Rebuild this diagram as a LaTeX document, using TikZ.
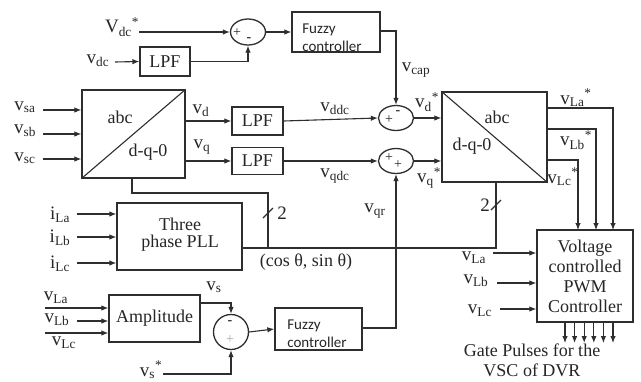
\documentclass[tikz,border=0pt]{standalone}
\usepackage{fontspec}
\setmainfont{Liberation Serif}
\newfontfamily\fzfont{Carlito}
\usetikzlibrary{arrows.meta,shapes.geometric}
\definecolor{ln}{HTML}{2E2E2E}
\definecolor{txt}{HTML}{262626}
\newcommand{\vsub}[1]{v\textsubscript{#1}}
\newcommand{\vstar}[1]{v\textsubscript{#1}\textsuperscript{*}}
\begin{document}
\begin{tikzpicture}[x=1pt,y=-1pt,
  blk/.style={draw=ln, line width=1.3pt, rectangle, inner sep=0pt, text=txt,
              font=\fontsize{18}{19}\selectfont, align=center},
  sumj/.style={draw=ln, line width=1.3pt, ellipse, inner sep=0pt},
  wire/.style={draw=ln, line width=1.1pt},
  arr/.style={wire, -{Latex[length=7pt,width=5.5pt]}},
  lbl/.style={font=\fontsize{19}{19}\selectfont, text=txt, inner sep=0pt},
  sgn/.style={font=\fontsize{14}{14}\selectfont, text=txt, inner sep=0pt},
  fz/.style={font=\fzfont\fontsize{15}{18}\selectfont, text=txt, align=left, inner sep=0pt},
  txtn/.style={font=\fontsize{18}{19}\selectfont, text=txt, inner sep=0pt, align=center}]
\useasboundingbox (0,0) rectangle (641,381);
\fill[white] (0,0) rectangle (641,381);

% ---------- blocks ----------
\node[blk, minimum width=88pt, minimum height=40pt] (fz1) at (336,32) {};
\node[fz] (fz1t) at (332,38) {Fuzzy\\controller};
\node[blk, minimum width=50pt, minimum height=29pt] (lpf0) at (165,61.5) {LPF};
\node[sumj, minimum width=35pt, minimum height=26pt] (s1) at (248,32) {};
\node[blk, minimum width=103pt, minimum height=88pt] (abc1) at (133.5,134) {};
\node[txtn] (abc1a) at (120,117) {abc};
\node[txtn] (abc1b) at (148,152) {d-q-0};
\node[blk, minimum width=51pt, minimum height=28pt] (lpf1) at (257.5,121) {LPF};
\node[blk, minimum width=51pt, minimum height=27pt] (lpf2) at (257.5,161) {LPF};
\node[sumj, minimum width=35pt, minimum height=25pt] (s2) at (396,118) {};
\node[sumj, minimum width=35pt, minimum height=25pt] (s3) at (396,161) {};
\node[blk, minimum width=105pt, minimum height=90pt] (abc2) at (494.5,137) {};
\node[txtn] (abc2a) at (497,117) {abc};
\node[txtn] (abc2b) at (472,146) {d-q-0};
\node[blk, minimum width=125pt, minimum height=67pt] (pll) at (179.5,236.5) {};
\node[txtn] (pllt) at (180,235) {Three\\[-2pt]phase PLL};
\node[blk, minimum width=91pt, minimum height=47pt] (amp) at (154.5,318.5) {Amplitude};
\node[sumj, minimum width=35pt, minimum height=35pt] (s4) at (231,332) {};
\node[blk, minimum width=87pt, minimum height=42pt] (fz2) at (318.5,329) {};
\node[fz] (fz2t) at (317,334) {Fuzzy\\controller};
\node[blk, minimum width=96pt, minimum height=92pt] (pwm) at (585,276) {Voltage\\[1pt]controlled\\[1pt]PWM\\[1pt]Controller};

% diagonals of the transformation blocks
\draw[wire] (abc1.south west) -- (abc1.north east);
\draw[wire] (abc2.north west) -- (abc2.south east);

% ---------- signs ----------
\node[sgn] (s1p) at (237,33) {+};
\node[sgn] (s1m) at (249,40) {\textbf{-}};
\node[sgn] (s2p) at (389,120) {+};
\node[sgn] (s2m) at (398,113) {\textbf{-}};
\node[sgn] (s3p1) at (389,158) {+};
\node[sgn] (s3p2) at (398,165) {+};
\node[sgn] (s4m) at (230,323) {\textbf{-}};
\node[sgn, text=gray!70] (s4p) at (230,340) {+};

% ---------- DC link loop ----------
\coordinate (vdcsin) at (139,32);
\node[lbl] (Vdcs) at (122,27) {V\textsubscript{dc}\textsuperscript{*}};
\draw[arr] (vdcsin) -- (s1.west);
\coordinate (vdcin) at (115,62);
\node[lbl] (vdc) at (98,61) {\vsub{dc}};
\draw[arr] (vdcin) -- (lpf0.west);
\draw[arr] (lpf0.east) -| (s1.south);
\draw[arr] (s1.east) -- (fz1.west);
\coordinate (fz1o) at (380,31);
\draw[arr] (fz1o) -| (s2.north);
\node[lbl] (vcap) at (416,70) {\vsub{cap}};

% ---------- abc -> dq0 ----------
\foreach \n/\y/\s in {sa/110/107, sb/134/131, sc/159/158}{
  \coordinate (in\n) at (43,\y);
  \draw[arr] (in\n) -- (in\n -| abc1.west);
  \node[lbl] (l\n) at (25,\s) {\vsub{\n}};
}
\draw[arr] (abc1.east |- lpf1.west) -- (lpf1.west);
\draw[arr] (abc1.east |- lpf2.west) -- (lpf2.west);
\node[lbl] (vd) at (201,111) {\vsub{d}};
\node[lbl] (vq) at (202,147) {\vsub{q}};
\draw[arr] (lpf1.east) -- (s2.west);
\draw[arr] (lpf2.east) -- (s3.west);
\node[lbl] (vddc) at (335,109) {\vsub{ddc}};
\node[lbl] (vqdc) at (335,176) {\vsub{qdc}};
\draw[arr] (s2.east) -- (s2.east -| abc2.west);
\draw[arr] (s3.east) -- (s3.east -| abc2.west);
\node[lbl] (vds) at (427,102) {\vstar{d}};
\node[lbl] (vqs) at (429,178) {\vstar{q}};

% ---------- dq0 -> abc outputs ----------
\coordinate (oa) at (547,108);
\coordinate (ob) at (547,129);
\coordinate (oc) at (547,160);
\draw[arr] (oa) -- (613,108) -- (613,230);
\draw[arr] (ob) -- (596,129) -- (596,230);
\draw[arr] (oc) -- (578,160) -- (578,230);
\node[lbl] (vLas) at (576,98) {\vstar{La}};
\node[lbl] (vLbs) at (576,140) {\vstar{Lb}};
\node[lbl] (vLcs) at (563,177) {\vstar{Lc}};

% ---------- PLL ----------
\foreach \n/\y/\s in {La/214/215, Lb/237/238, Lc/263/264}{
  \coordinate (i\n) at (77,\y);
  \draw[arr] (i\n) -- (i\n -| pll.west);
  \node[lbl] (li\n) at (60,\s) {i\textsubscript{\n}};
}
\coordinate (pllo) at (242,248);
\coordinate (ab1b) at (132,178);
\draw[wire] (ab1b) -- (132,193) -- (268,193) -- (268,248);
\draw[wire] (pllo) -- (496,248) -- (496,182);
\draw[wire] (263,218) -- (273,208);
\node[lbl] (two1) at (282,213) {2};
\draw[wire] (491,210) -- (501,200);
\node[lbl] (two2) at (485,205) {2};
\node[txtn] (cs) at (306,262) {(cos θ, sin θ)};

% ---------- amplitude loop ----------
\coordinate (aLa) at (45,308);
\coordinate (aLb) at (77,321);
\coordinate (aLc) at (45,333);
\draw[arr] (aLa) -- (aLa -| amp.west);
\draw[arr] (aLb) -- (aLb -| amp.west);
\draw[arr] (aLc) -- (aLc -| amp.west);
\node[lbl] (laLa) at (56,298) {\vsub{La}};
\node[lbl] (laLb) at (57,320) {\vsub{Lb}};
\node[lbl] (laLc) at (64,343) {\vsub{Lc}};
\coordinate (ampo) at (200,303);
\draw[arr] (ampo) -| (s4.north);
\node[lbl] (vs) at (214,287) {\vsub{s}};
\coordinate (vsin) at (163,374);
\draw[arr] (vsin) -| (s4.south);
\node[lbl] (vsl) at (151,370) {\vstar{s}};
\draw[arr] (s4.east) -- (fz2.west);
\coordinate (fz2o) at (362,328);
\draw[arr] (fz2o) -| (s3.south);
\node[lbl] (vqr) at (375,211) {\vsub{qr}};

% ---------- PWM ----------
\foreach \n/\x/\y in {La/493/253, Lb/497/283, Lc/500/309}{
  \coordinate (p\n) at (\x,\y);
  \draw[arr] (p\n) -- (p\n -| pwm.west);
}
\node[lbl] (lpLa) at (474,258) {\vsub{La}};
\node[lbl] (lpLb) at (476,281) {\vsub{Lb}};
\node[lbl] (lpLc) at (480,311) {\vsub{Lc}};
\foreach \k in {0,...,5}{
  \coordinate (g\k) at (565+9.6*\k,322);
  \draw[arr] (g\k) -- ++(0,21);
}
\node[txtn] (gate) at (532,360) {Gate Pulses for the\\[1pt]VSC of DVR};
\end{tikzpicture}
\end{document}
